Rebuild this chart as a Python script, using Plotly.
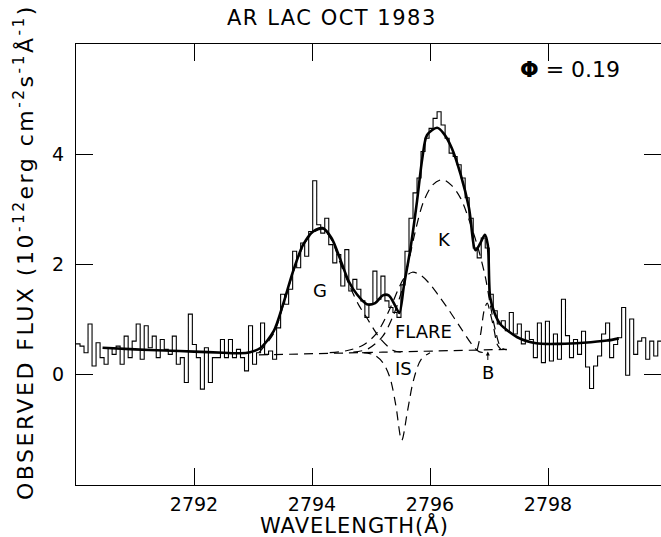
import plotly.graph_objects as go

# ---------------- data ----------------
# observed spectrum (histogram), regular wavelength bins
wl_start = 2790.0
bin_width = 0.068
flux_obs = [
    0.56, 0.52, 0.40, 0.92, 0.16, 0.58, 0.31, 0.19, 0.49, 0.37,
    0.52, 0.19, 0.70, 0.31, 0.61, 0.92, 0.28, 0.89, 0.49, 0.70,
    0.31, 0.64, 0.46, 0.37, 0.70, 0.19, 0.31, -0.14, 1.10, 0.55,
    0.31, -0.26, 0.49, -0.14, 0.31, 0.31, 0.64, 0.31, 0.64, 0.31,
    0.46, 0.31, 0.07, 0.89, 0.19, 0.40, 0.94, 0.37, 0.43, 0.28,
    0.85,
    1.46, 1.28, 1.55, 2.24, 1.94, 2.39, 2.15, 2.60, 3.52, 2.72,
    2.57, 2.84, 2.36, 2.03, 2.18, 1.61, 2.27, 1.52, 1.73, 1.55,
    1.34, 1.04, 1.28, 1.88, 1.37, 1.79, 1.34, 1.22, 1.13, 1.04,
    1.63, 2.24, 2.84, 3.30, 3.57, 4.05, 4.29, 4.47, 4.65, 4.77,
    4.53, 4.29, 4.02, 3.96, 3.81, 3.57, 3.21, 2.84, 2.30, 2.12,
    2.48, 2.30, 1.46, 1.16, 0.92, 0.98, 0.80, 1.13, 0.74, 0.92,
    0.56,
    0.79, 0.64, 0.31, 0.94, 0.22, 0.97, 0.25, 0.74, 0.28, 1.37,
    0.71, 0.31, 0.64, 0.37, 0.79, 0.14, -0.25, 0.16, 0.34, 0.74,
    0.94, 0.31, 0.55, 0.67, 1.22, -0.01, 1.01, 0.37, 0.61, 0.67,
    0.28, 0.61, 0.34, 0.61, 0.50,
]

# total fit (solid)
fit_wl = [2790.45, 2791.0, 2791.5, 2792.0, 2792.5, 2792.78, 2792.95, 2793.12,
          2793.35, 2793.51, 2793.68, 2793.85, 2794.02, 2794.18, 2794.33,
          2794.47, 2794.62, 2794.76, 2794.93, 2795.07, 2795.2, 2795.3,
          2795.41, 2795.48, 2795.56, 2795.67, 2795.78, 2795.87, 2795.95,
          2796.12, 2796.23, 2796.37, 2796.52, 2796.66, 2796.77, 2796.85,
          2796.93, 2796.98, 2797.02, 2797.1, 2797.19, 2797.48, 2797.8,
          2798.2, 2798.6, 2799.0, 2799.2]
fit_flux = [0.49, 0.46, 0.44, 0.42, 0.40, 0.39, 0.41, 0.48,
            0.79, 1.28, 1.88, 2.36, 2.60, 2.66, 2.48,
            2.12, 1.70, 1.46, 1.28, 1.30, 1.44, 1.44,
            1.25, 1.12, 1.63, 2.30, 3.15, 3.93, 4.35,
            4.48, 4.38, 4.11, 3.63, 3.03, 2.26, 2.38,
            2.54, 2.35, 1.40, 1.10, 0.92, 0.68, 0.57,
            0.56, 0.58, 0.62, 0.66]

# continuum (dashed)
cont_wl = [2793.1, 2795.2, 2797.3]
cont_flux = [0.36, 0.41, 0.46]

# G component
g_wl = [2793.1, 2793.35, 2793.51, 2793.68, 2793.85, 2794.02, 2794.18, 2794.33,
        2794.47, 2794.65, 2794.8, 2794.93, 2795.05, 2795.16, 2795.38, 2795.61]
g_flux = [0.40, 0.75, 1.25, 1.85, 2.33, 2.58, 2.64, 2.45,
          2.05, 1.58, 1.25, 1.03, 0.82, 0.65, 0.44, 0.40]

# K component
k_wl = [2794.7, 2794.95, 2795.2, 2795.38, 2795.5, 2795.64, 2795.75, 2795.89,
        2796.05, 2796.21, 2796.37, 2796.52, 2796.69, 2796.83, 2796.94,
        2797.02, 2797.11, 2797.2, 2797.3]
k_flux = [0.41, 0.47, 0.70, 1.08, 1.45, 2.06, 2.60, 3.14,
          3.45, 3.54, 3.43, 3.20, 2.72, 2.24, 1.76,
          1.28, 0.80, 0.50, 0.45]

# FLARE component
fl_wl = [2794.3, 2794.6, 2794.87, 2795.1, 2795.33, 2795.45, 2795.56, 2795.70,
         2795.85, 2796.01, 2796.15, 2796.29, 2796.52, 2796.71, 2796.83, 2796.95]
fl_flux = [0.40, 0.44, 0.54, 0.76, 1.22, 1.52, 1.75, 1.86,
           1.80, 1.63, 1.43, 1.22, 0.85, 0.55, 0.42, 0.40]

# interstellar absorption (IS)
is_wl = [2794.85, 2795.05, 2795.2, 2795.32, 2795.42, 2795.52, 2795.62, 2795.72,
         2795.85, 2796.0]
is_flux = [0.40, 0.36, 0.22, -0.05, -0.55, -1.19, -0.65, -0.10, 0.28, 0.40]

# blend B
b_wl = [2796.8, 2796.86, 2796.92, 2796.97, 2797.02, 2797.08, 2797.14, 2797.2]
b_flux = [0.45, 0.75, 1.18, 1.30, 1.12, 0.85, 0.55, 0.46]

x_ticks = [2792, 2794, 2796, 2798]
y_ticks = [0, 2, 4]

# ---------------- figure ----------------
FONT = "DejaVu Sans"
edges = [wl_start + bin_width * i for i in range(len(flux_obs) + 1)]
hist_y = flux_obs + [flux_obs[-1]]

fig = go.Figure()
dash_style = dict(color="black", width=1.2, dash="9px,6px", shape="spline", smoothing=0.9)
for wl, fl in [(cont_wl, cont_flux), (g_wl, g_flux), (k_wl, k_flux),
               (fl_wl, fl_flux), (is_wl, is_flux), (b_wl, b_flux)]:
    fig.add_trace(go.Scatter(x=wl, y=fl, mode="lines", line=dash_style,
                             hoverinfo="skip", showlegend=False))

fig.add_trace(go.Scatter(x=edges, y=hist_y, mode="lines",
                         line=dict(color="black", width=1.1, shape="hv"),
                         showlegend=False))
fig.add_trace(go.Scatter(x=fit_wl, y=fit_flux, mode="lines",
                         line=dict(color="black", width=2.6, shape="spline", smoothing=0.8),
                         showlegend=False))

axis_common = dict(showgrid=False, zeroline=False, showline=True, linecolor="black",
                   linewidth=1.2, ticks="inside", ticklen=17, tickwidth=1.2,
                   tickcolor="black", mirror="ticks",
                   tickfont=dict(family=FONT, size=19, color="black"))

fig.update_layout(
    width=661, height=537,
    margin=dict(l=76, r=0, t=44, b=52),
    paper_bgcolor="white", plot_bgcolor="white",
    xaxis=dict(range=[2790, 2799.915], tickvals=x_ticks,
               ticktext=[str(v) for v in x_ticks], ticklabelstandoff=2, **axis_common),
    yaxis=dict(range=[-2, 6], tickvals=y_ticks,
               ticktext=[str(v) for v in y_ticks], ticklabelstandoff=7, **axis_common),
    font=dict(family=FONT, color="black"),
)

ann = []
def paper_text(text, px, py, size, angle=0):
    ann.append(dict(text=text, xref="paper", yref="paper",
                    x=(px - 76) / 585, y=(485 - py) / 441,
                    xanchor="center", yanchor="middle", showarrow=False,
                    textangle=angle, font=dict(family=FONT, size=size, color="black")))

paper_text('<span style="letter-spacing:1.5px">AR LAC OCT 1983</span>', 332, 18, 21)
paper_text('<span style="letter-spacing:1px">WAVELENGTH(Å)</span>', 354, 525, 21)
paper_text('<span style="letter-spacing:2.5px">OBSERVED FLUX (10<sup>-12</sup>erg cm<sup>-2</sup>s<sup>-1</sup>Å<sup>-1</sup>)</span>',
           24, 252, 22, angle=-90)
paper_text("<b>Φ</b> = 0.19", 570, 69, 22)

labels = [("G", 2794.14, 1.52), ("K", 2796.24, 2.46), ("FLARE", 2795.89, 0.78),
          ("IS", 2795.55, 0.11), ("B", 2796.98, 0.04)]
for t, lx, ly in labels:
    ann.append(dict(text=t, x=lx, y=ly, xref="x", yref="y", showarrow=False,
                    xanchor="center", yanchor="middle",
                    font=dict(family=FONT, size=18, color="black")))
ann.append(dict(text="", x=2796.98, y=0.42, ax=2796.98, ay=0.24, xref="x", yref="y",
                axref="x", ayref="y", showarrow=True, arrowhead=2, arrowsize=0.8,
                arrowwidth=1, arrowcolor="black"))
fig.update_layout(annotations=ann)

fig.write_html("out.html")
